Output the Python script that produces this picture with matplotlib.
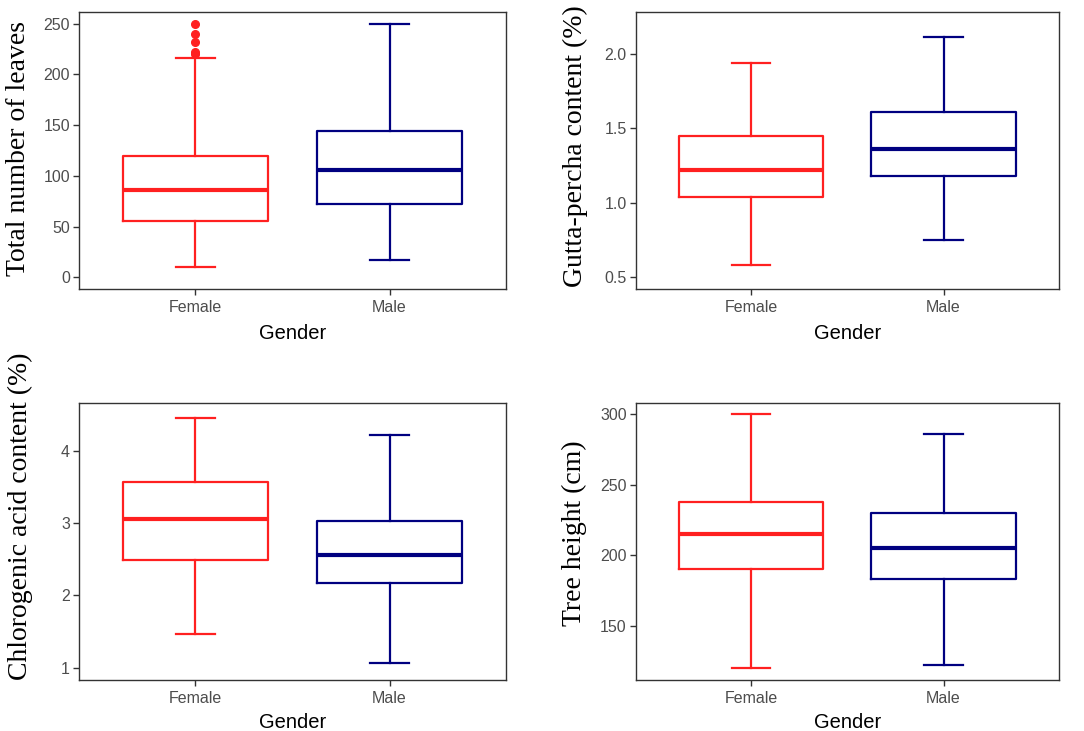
import matplotlib
matplotlib.use("Agg")
import matplotlib.pyplot as plt

# ---------------- data ----------------
genders = ["Female", "Male"]

# Total number of leaves
leaves_stats = {
    "Female": dict(whislo=10, q1=56, med=86, q3=120, whishi=216, fliers=[220, 222, 232, 240, 250]),
    "Male":   dict(whislo=17, q1=72, med=106, q3=144, whishi=250, fliers=[]),
}
# Gutta-percha content (%)
gutta_stats = {
    "Female": dict(whislo=0.58, q1=1.04, med=1.22, q3=1.45, whishi=1.94, fliers=[]),
    "Male":   dict(whislo=0.75, q1=1.18, med=1.36, q3=1.61, whishi=2.11, fliers=[]),
}
# Chlorogenic acid content (%)
chloro_stats = {
    "Female": dict(whislo=1.47, q1=2.49, med=3.05, q3=3.56, whishi=4.45, fliers=[]),
    "Male":   dict(whislo=1.07, q1=2.17, med=2.56, q3=3.03, whishi=4.22, fliers=[]),
}
# Tree height (cm)
height_stats = {
    "Female": dict(whislo=120, q1=190, med=215, q3=238, whishi=300, fliers=[]),
    "Male":   dict(whislo=122, q1=183, med=205, q3=230, whishi=286, fliers=[]),
}

leaves_ticks = [0, 50, 100, 150, 200, 250]
gutta_ticks = [0.5, 1.0, 1.5, 2.0]
gutta_ticklabels = ["0.5", "1.0", "1.5", "2.0"]
chloro_ticks = [1, 2, 3, 4]
height_ticks = [150, 200, 250, 300]

ylabels = ["Total number of leaves", "Gutta-percha content (%)",
           "Chlorogenic acid content (%)", "Tree height (cm)"]
xlabel = "Gender"

colors = {"Female": "#FF2020", "Male": "#000080"}

# ---------------- figure ----------------
fig = plt.figure(figsize=(10.84, 7.31), dpi=100)

W, H = 1084, 731
def axes_px(x0, x1, ytop, ybot):
    return [x0 / W, 1 - ybot / H, (x1 - x0) / W, (ybot - ytop) / H]

panels = [
    dict(rect=axes_px(79, 506, 12, 289.3), stats=leaves_stats, ylim=(-11.8, 261.6),
         ticks=leaves_ticks, ticklabels=None, label=ylabels[0], lab=(-0.112, 0.508), xl=-0.125),
    dict(rect=axes_px(635.7, 1059, 12, 289.3), stats=gutta_stats, ylim=(0.42, 2.28),
         ticks=gutta_ticks, ticklabels=gutta_ticklabels, label=ylabels[1], lab=(-0.113, 0.518), xl=-0.125),
    dict(rect=axes_px(79, 506, 402.7, 680.3), stats=chloro_stats, ylim=(0.83, 4.66),
         ticks=chloro_ticks, ticklabels=None, label=ylabels[2], lab=(-0.108, 0.590), xl=-0.117),
    dict(rect=axes_px(635.7, 1059, 402.7, 680.3), stats=height_stats, ylim=(111.2, 308.2),
         ticks=height_ticks, ticklabels=None, label=ylabels[3], lab=(-0.115, 0.529), xl=-0.117),
]

for p in panels:
    ax = fig.add_axes(p["rect"])
    for i, g in enumerate(genders):
        s = dict(p["stats"][g])
        s["label"] = g
        c = colors[g]
        ax.bxp([s], positions=[i + 1], widths=0.75, capwidths=0.2,
               showfliers=True, patch_artist=False,
               boxprops=dict(color=c, linewidth=1.6),
               whiskerprops=dict(color=c, linewidth=1.6),
               capprops=dict(color=c, linewidth=1.6),
               medianprops=dict(color=c, linewidth=3.0, solid_capstyle="butt"),
               flierprops=dict(marker="o", markerfacecolor=c, markeredgecolor=c,
                               markersize=5.5, linestyle="none"))
    ax.set_xlim(0.4, 2.6)
    ax.set_ylim(*p["ylim"])
    ax.set_xticks([1, 2])
    ax.set_xticklabels(genders)
    ax.set_yticks(p["ticks"])
    if p["ticklabels"] is not None:
        ax.set_yticklabels(p["ticklabels"])
    ax.tick_params(axis="both", colors="#333333", labelcolor="#4D4D4D",
                   labelsize=11.5, length=4, width=1)
    ax.tick_params(axis="x", pad=4)
    ax.tick_params(axis="y", pad=2.5)
    for sp in ax.spines.values():
        sp.set_color("#333333")
        sp.set_linewidth(1.0)
    ax.set_ylabel(p["label"], family="Liberation Serif", fontsize=20, color="black")
    ax.yaxis.set_label_coords(*p["lab"])
    ax.set_xlabel(xlabel, family="Liberation Sans", fontsize=14.5, color="black")
    ax.xaxis.set_label_coords(0.5, p["xl"])
    for t in ax.get_xticklabels() + ax.get_yticklabels():
        t.set_family("Liberation Sans")

fig.savefig("out.png", dpi=100)
